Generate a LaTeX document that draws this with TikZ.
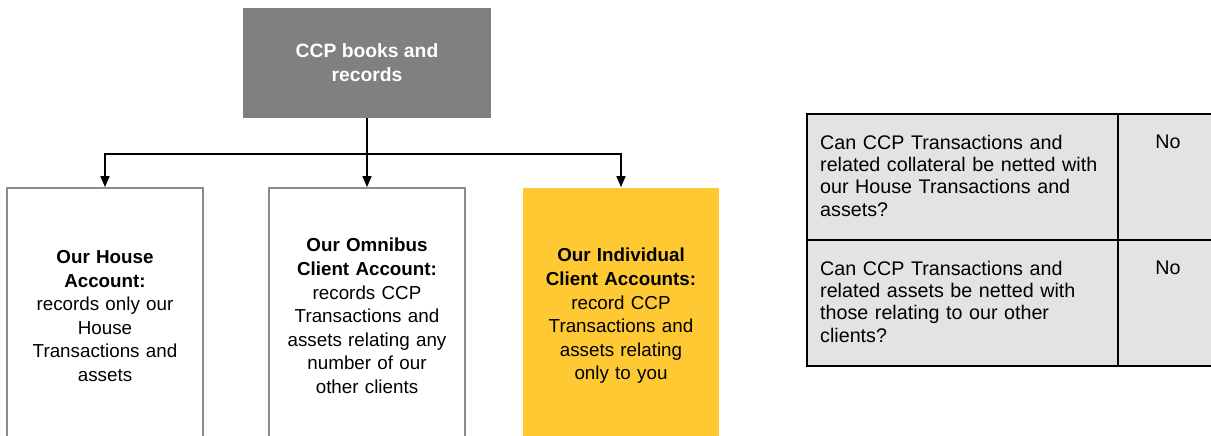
\documentclass[tikz,border=0pt]{standalone}
\usepackage{fontspec}
\setmainfont{Liberation Sans}
\usetikzlibrary{arrows.meta,calc}
\definecolor{topgray}{HTML}{808080}
\definecolor{boxedge}{HTML}{8C8C8C}
\definecolor{ccpyellow}{HTML}{FFC933}
\definecolor{cellgray}{HTML}{E3E3E3}
\tikzset{
  headbox/.style={rectangle, fill=topgray, minimum width=248pt, minimum height=110pt, inner sep=0pt,
    text=white, align=center, font=\fontsize{19.3}{24}\selectfont\bfseries},
  acctbox/.style={rectangle, draw=boxedge, line width=1.7pt, minimum width=196pt, minimum height=256pt,
    inner sep=0pt, align=center, text width=190pt, font=\fontsize{18.8}{23.6}\selectfont},
  yelbox/.style={acctbox, draw=none, fill=ccpyellow},
  arr/.style={line width=1.4pt, -{Triangle[length=11pt,width=9pt]}},
  conn/.style={line width=1.4pt},
  cell/.style={rectangle, draw=black, line width=2.4pt, fill=cellgray, inner sep=0pt},
  qtext/.style={anchor=north west, inner sep=0pt, align=left, text width=290pt,
    font=\fontsize{19.7}{22.2}\selectfont},
  atext/.style={anchor=north, inner sep=0pt, font=\fontsize{19.7}{22.2}\selectfont}
}
\begin{document}
\begin{tikzpicture}[x=1pt,y=-1pt]
\useasboundingbox (0,0) rectangle (1211,436);
\clip (0,0) rectangle (1211,436);
% top box
\node[headbox] (top) at (367,63) {CCP books and\\records};
% account boxes
\node[acctbox] (house) at (105,316) {\textbf{Our House}\\\textbf{Account:}\\records only our\\House\\Transactions and\\assets};
\node[acctbox] (omni) at (367,316) {\textbf{Our Omnibus}\\\textbf{Client Account:}\\records CCP\\Transactions and\\assets relating any\\number of our\\other clients};
\node[yelbox] (indiv) at (621,316) {\textbf{Our Individual}\\\textbf{Client Accounts:}\\record CCP\\Transactions and\\assets relating\\only to you};
% connectors
\coordinate (bus) at (367,154);
\draw[conn] (top.south) -- (bus);
\draw[arr] (bus) -| (house.north);
\draw[arr] (bus) -- (omni.north);
\draw[arr] (bus) -| (indiv.north);
% table
\node[cell, minimum width=311pt, minimum height=126pt, anchor=north west] (q1) at (806,113) {};
\node[cell, minimum width=96pt, minimum height=126pt, anchor=north west] (a1) at (1117,113) {};
\node[cell, minimum width=311pt, minimum height=126pt, anchor=north west] (q2) at (806,239) {};
\node[cell, minimum width=96pt, minimum height=126pt, anchor=north west] (a2) at (1117,239) {};
\node[qtext] (q1t) at (820,135) {Can CCP Transactions and\\related collateral be netted with\\our House Transactions and\\assets?};
\node[qtext] (q2t) at (820,261) {Can CCP Transactions and\\related assets be netted with\\those relating to our other\\clients?};
\node[atext] (a1t) at (1168,135) {No};
\node[atext] (a2t) at (1168,261) {No};
\end{tikzpicture}
\end{document}
